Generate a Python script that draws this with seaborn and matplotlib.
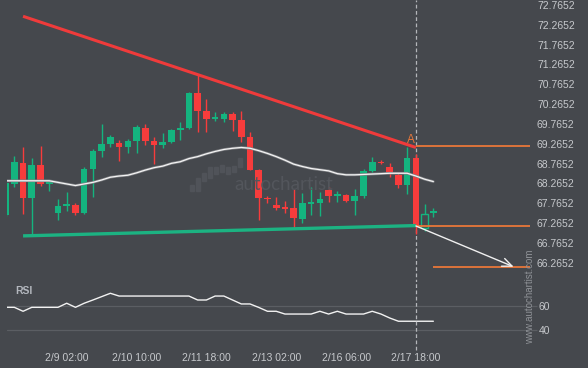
import numpy as np
import pandas as pd
import matplotlib.pyplot as plt
import seaborn as sns
from matplotlib.patches import Rectangle

# 4h candles (first one is partly cut by the left edge)
opens = [67.47, 68.25, 68.78, 67.90, 68.73, 68.27, 67.52, 67.72, 67.72, 67.52,
         68.63, 69.08, 69.26, 69.28, 69.18, 69.33, 69.66, 69.33, 69.23, 69.31,
         69.63, 69.66, 70.54, 70.09, 69.89, 69.89, 70.01, 69.86, 69.43, 68.60,
         67.90, 67.72, 67.67, 67.64, 67.37, 67.76, 67.77, 68.10, 67.96, 67.97,
         67.82, 67.95, 68.58, 68.80, 68.68, 68.48, 68.22, 68.90, 67.14, 67.53]
highs = [68.29, 68.96, 69.18, 68.90, 69.21, 68.32, 67.87, 68.05, 67.77, 68.68,
         69.13, 69.76, 69.49, 69.36, 69.38, 69.74, 69.76, 69.43, 69.54, 69.64,
         69.81, 70.57, 71.00, 70.39, 70.07, 70.07, 70.07, 70.09, 69.56, 68.63,
         67.95, 67.92, 67.82, 68.12, 68.02, 68.17, 68.05, 68.17, 68.07, 68.00,
         68.12, 68.63, 68.93, 68.85, 68.78, 68.55, 69.18, 69.01, 67.74, 67.64]
lows = [67.45, 68.17, 67.49, 66.96, 68.20, 68.07, 67.34, 67.57, 67.47, 67.49,
        67.92, 68.93, 69.18, 68.83, 69.03, 69.03, 69.23, 68.75, 69.16, 69.28,
        69.36, 69.64, 69.56, 69.56, 69.84, 69.81, 69.59, 69.31, 68.60, 67.34,
        67.77, 67.59, 67.52, 67.14, 67.27, 67.47, 67.44, 67.80, 67.80, 67.80,
        67.47, 67.90, 68.55, 68.75, 68.43, 68.15, 68.00, 66.99, 67.06, 67.42]
closes = [68.27, 68.80, 67.90, 68.73, 68.25, 68.28, 67.69, 67.73, 67.52, 68.63,
          69.08, 69.26, 69.43, 69.18, 69.33, 69.69, 69.33, 69.23, 69.31, 69.61,
          69.64, 70.54, 70.09, 69.89, 69.94, 70.01, 69.86, 69.43, 68.60, 67.90,
          67.87, 67.64, 67.62, 67.39, 67.77, 67.77, 67.87, 67.95, 67.97, 67.82,
          67.95, 68.58, 68.80, 68.78, 68.53, 68.22, 68.90, 67.19, 67.49, 67.54]
hollow_candles = [48]

# moving average and RSI
ma_values = [68.33, 68.33, 68.33, 68.33, 68.33, 68.33, 68.29, 68.25, 68.21, 68.25,
             68.29, 68.35, 68.42, 68.45, 68.47, 68.53, 68.60, 68.66, 68.70, 68.77,
             68.81, 68.89, 68.94, 69.01, 69.07, 69.12, 69.15, 69.17, 69.15, 69.09,
             69.02, 68.94, 68.85, 68.75, 68.69, 68.64, 68.61, 68.58, 68.51, 68.48,
             68.48, 68.49, 68.50, 68.51, 68.52, 68.52, 68.52, 68.45, 68.37, 68.31]
rsi_values = [58.9, 58.9, 55.6, 58.9, 58.9, 58.9, 58.9, 62.3, 58.9, 62.3,
              65.0, 67.8, 70.6, 68.3, 68.3, 68.3, 68.3, 68.3, 68.3, 68.3,
              68.3, 68.3, 65.0, 65.0, 68.3, 68.3, 65.0, 61.7, 61.7, 58.8,
              55.6, 55.6, 53.3, 53.3, 53.3, 53.3, 55.6, 53.3, 55.6, 53.3,
              53.3, 53.3, 55.6, 53.3, 50.0, 47.3, 47.3, 47.3, 47.3, 47.3]

# pattern lines
resistance_x = [2, 47]
resistance_y = [72.48, 69.17]
support_x = [2, 47]
support_y = [66.94, 67.20]
level_prices = [69.21, 67.20, 66.15]
level_starts = [47, 47, 49]
arrow_from = (47, 67.19)
arrow_to = (58.2, 66.16)
breakout_idx = 47
label_pos = (46.4, 69.36)

price_ticks = [66.2652, 66.7652, 67.2652, 67.7652, 68.2652, 68.7652, 69.2652,
               69.7652, 70.2652, 70.7652, 71.2652, 71.7652, 72.2652, 72.7652]
rsi_ticks = [40, 60]
date_ticks = [7, 15, 23, 31, 39, 47]
date_labels = ['2/9 02:00', '2/10 10:00', '2/11 18:00', '2/13 02:00',
               '2/16 06:00', '2/17 18:00']

# colours
bg = '#45484d'
green = '#14b47f'
red = '#f73c3c'
orange = '#e8773a'
label_col = '#c6c8cc'
grid_col = '#5b5e63'

sns.set_style('dark')
plt.rcParams['font.family'] = ['Liberation Sans', 'DejaVu Sans']

W, H = 588, 368
fig = plt.figure(figsize=(W / 100, H / 100), dpi=100, facecolor=bg)
ax = fig.add_axes([7 / W, 1 - 280 / H, 523 / W, 280 / H])
ax_rsi = fig.add_axes([7 / W, 1 - 342 / H, 523 / W, 60 / H])
xlim = (0.16, 60.07)
for a in (ax, ax_rsi):
    a.set_facecolor(bg)
    a.grid(False)
    for s in a.spines.values():
        s.set_visible(False)
    a.set_xlim(*xlim)

# faint logo watermark
logo_bars = [(190, 185, 191), (196, 178, 191), (202, 173, 181), (208, 167, 178),
             (214, 167, 174), (220, 165, 172), (226, 167, 174), (232, 166, 172), (238, 158, 167)]
for bx, top, bot in logo_bars:
    fig.add_artist(Rectangle((bx / W, 1 - bot / H), 4 / W, (bot - top) / H,
                             transform=fig.transFigure, color='#505359', zorder=0.5))
fig.text(284 / W, 1 - 185 / H, 'autochartist', ha='center', va='center',
         fontsize=13.5, color='#53565c', family='Lato', zorder=0.5)

# candles
df = pd.DataFrame({'o': opens, 'h': highs, 'l': lows, 'c': closes})
df['idx'] = np.arange(len(df))
up = df['c'] >= df['o']
cols = np.where(up, green, red)
ax.axvline(breakout_idx, ymin=-0.01, color='#b4b6ba', linewidth=0.9,
           linestyle=(0, (3, 2)), zorder=1.5, clip_on=False)
ax.vlines(df['idx'], df['l'], df['h'], colors=cols, linewidth=1, zorder=2)
mid = (df['o'] + df['c']) / 2
body_h = np.maximum((df['c'] - df['o']).abs(), 0.045)
faces = [bg if i in hollow_candles else c for i, c in zip(df['idx'], cols)]
ax.bar(df['idx'], body_h, bottom=mid - body_h / 2, width=0.76, color=faces,
       edgecolor=cols, linewidth=[1 if i in hollow_candles else 0 for i in df['idx']],
       zorder=2.5)

# moving average
sns.lineplot(x=df['idx'], y=ma_values, ax=ax, color='#7e8084', linewidth=1.9, zorder=3, legend=False)
sns.lineplot(x=df['idx'], y=ma_values, ax=ax, color='#f4f4f4', linewidth=0.9, zorder=3.1, legend=False)

# triangle lines
ax.plot(resistance_x, resistance_y, color='#ef3b3b', linewidth=2.2, zorder=4, solid_capstyle='butt')
ax.plot(support_x, support_y, color='#1cb382', linewidth=2.4, zorder=4, solid_capstyle='butt')

# levels, breakout marker and projection arrow
for lv, st in zip(level_prices, level_starts):
    ax.hlines(lv, st, xlim[1], color=orange, linewidth=1.3, zorder=4)
ax.text(label_pos[0], label_pos[1], 'A', color=orange, fontsize=8.5, ha='center', va='center', zorder=6)
ax.annotate('', xy=arrow_to, xytext=arrow_from, zorder=6,
            arrowprops=dict(arrowstyle='->,head_length=0.7,head_width=0.3',
                            color='#f0f0f0', lw=1, shrinkA=0, shrinkB=0))

ax.set_ylim(65.827, 72.891)
ax.set_xticks([])
ax.yaxis.tick_right()
ax.set_yticks(price_ticks)
ax.set_yticklabels([f'{v:.4f}' for v in price_ticks])
ax.tick_params(axis='y', length=0, pad=5, labelcolor=label_col, labelsize=7.5)

# RSI panel
for t in rsi_ticks:
    ax_rsi.axhline(t, color=grid_col, linewidth=0.9, zorder=1)
sns.lineplot(x=df['idx'], y=rsi_values, ax=ax_rsi, color='#f2f2f2', linewidth=1, zorder=3, legend=False)
ax_rsi.axvline(breakout_idx, ymin=-0.14, ymax=1, color='#b4b6ba', linewidth=0.9,
               linestyle=(0, (3, 2)), zorder=5, clip_on=False)
ax_rsi.set_ylim(30, 80)
ax_rsi.yaxis.tick_right()
ax_rsi.set_yticks(rsi_ticks)
ax_rsi.tick_params(axis='y', length=5, width=0.9, color=grid_col, pad=1,
                   labelcolor=label_col, labelsize=7.5)
ax_rsi.set_xticks(date_ticks)
ax_rsi.set_xticklabels(date_labels)
ax_rsi.tick_params(axis='x', length=0, pad=8, labelcolor=label_col, labelsize=7.5)
ax_rsi.set_xlabel('')
ax_rsi.set_ylabel('')
ax.set_xlabel('')
ax.set_ylabel('')
ax_rsi.text(0.015, 0.85, 'RSI', transform=ax_rsi.transAxes, color='#b3b7be',
            fontsize=7.5, fontweight='bold', va='center', ha='left')

fig.text(530 / W, 1 - 297 / H, 'www.autochartist.com', rotation=90, color='#8f9297',
         fontsize=7, ha='center', va='center')

fig.savefig('out.png', dpi=100, facecolor=bg)
